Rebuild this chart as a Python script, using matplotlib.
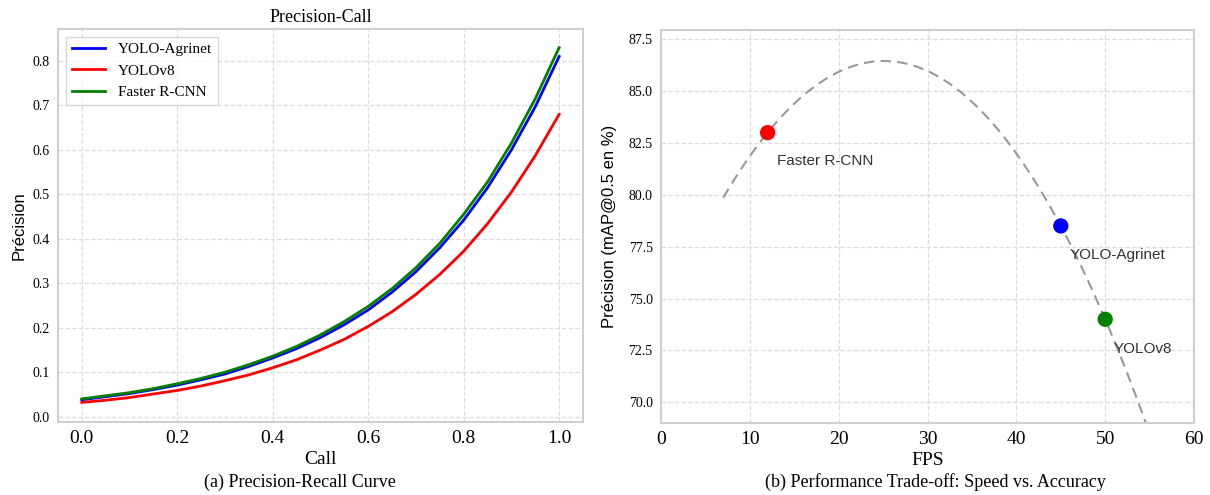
import numpy as np
import matplotlib
matplotlib.use('Agg')
from matplotlib import pyplot as plt

# panel (a): precision-recall curves
recall = [0.0, 0.05, 0.1, 0.15, 0.2, 0.25, 0.3, 0.35, 0.4, 0.45, 0.5,
          0.55, 0.6, 0.65, 0.7, 0.75, 0.8, 0.85, 0.9, 0.95, 1.0]
prec_agrinet = [0.038, 0.045, 0.052, 0.061, 0.071, 0.083, 0.096, 0.113, 0.132, 0.153, 0.178,
                0.207, 0.240, 0.280, 0.326, 0.380, 0.442, 0.515, 0.600, 0.697, 0.810]
prec_yolov8 = [0.032, 0.037, 0.043, 0.051, 0.059, 0.069, 0.081, 0.094, 0.110, 0.128, 0.150,
               0.174, 0.203, 0.236, 0.275, 0.320, 0.372, 0.434, 0.505, 0.587, 0.680]
prec_frcnn = [0.040, 0.047, 0.054, 0.063, 0.074, 0.086, 0.100, 0.117, 0.136, 0.158, 0.184,
              0.214, 0.248, 0.288, 0.335, 0.390, 0.455, 0.528, 0.615, 0.715, 0.830]

# panel (b): speed vs accuracy
models = ['Faster R-CNN', 'YOLO-Agrinet', 'YOLOv8']
fps = [12, 45, 50]
mAP = [83.0, 78.5, 74.0]
point_colors = ['red', 'blue', 'green']
trend_x = [7, 55]

serif = 'Liberation Serif'
sans = 'Liberation Sans'
grid_col = '#dcdcdc'
frame_col = '#cfcfcf'

fig = plt.figure(figsize=(12.1, 4.95), dpi=100)
ax1 = fig.add_axes([0.0479, 0.1475, 0.4339, 0.794])
ax2 = fig.add_axes([0.5463, 0.1455, 0.4405, 0.794])


def style(ax):
    ax.set_facecolor('white')
    ax.grid(True, linestyle='--', color=grid_col, linewidth=0.9)
    ax.set_axisbelow(True)
    for s in ax.spines.values():
        s.set_color(frame_col)
        s.set_linewidth(1.5)
    ax.tick_params(length=0, pad=6)


style(ax1)
ax1.plot(recall, prec_agrinet, color='blue', lw=2, label='YOLO-Agrinet')
ax1.plot(recall, prec_yolov8, color='red', lw=2, label='YOLOv8')
ax1.plot(recall, prec_frcnn, color='green', lw=2, label='Faster R-CNN')
ax1.set_xlim(-0.05, 1.05)
ax1.set_ylim(-0.012, 0.872)
ax1.set_xticks([0.0, 0.2, 0.4, 0.6, 0.8, 1.0])
ax1.set_yticks([0.0, 0.1, 0.2, 0.3, 0.4, 0.5, 0.6, 0.7, 0.8])
for t in ax1.get_xticklabels():
    t.set_fontfamily(serif)
    t.set_fontsize(14)
for t in ax1.get_yticklabels():
    t.set_fontfamily(serif)
    t.set_fontsize(10)
ax1.set_xlabel('Call', fontfamily=serif, fontsize=14, labelpad=3)
ax1.set_ylabel('Précision', fontfamily=sans, fontsize=12, labelpad=4)
ax1.set_title('Precision-Call', fontfamily=serif, fontsize=13, pad=5)
leg = ax1.legend(loc='upper left', prop={'family': serif, 'size': 11},
                 frameon=True, fancybox=False, borderpad=0.4, handlelength=2.2)
leg.get_frame().set_edgecolor(frame_col)

style(ax2)
# quadratic trend through the three models
coef = np.polyfit(fps, mAP, 2)
xs = np.linspace(trend_x[0], trend_x[1], 200)
ax2.plot(xs, np.polyval(coef, xs), linestyle=(0, (5, 3)), color='#999999', lw=1.5)
ax2.scatter(fps, mAP, c=point_colors, s=100, zorder=3)
offsets = [(1, -1.55), (1, -1.6), (1, -1.65)]
for name, x, y, (dx, dy) in zip(models, fps, mAP, offsets):
    ax2.text(x + dx, y + dy, name, fontfamily=sans, fontsize=11, color='#333333')
ax2.set_xlim(0, 60)
ax2.set_ylim(69.0, 87.95)
ax2.set_xticks([0, 10, 20, 30, 40, 50, 60])
ax2.set_yticks([70.0, 72.5, 75.0, 77.5, 80.0, 82.5, 85.0, 87.5])
ax2.set_yticklabels(['70.0', '72.5', '75.0', '77.5', '80.0', '82.5', '85.0', '87.5'])
for t in ax2.get_xticklabels():
    t.set_fontfamily(serif)
    t.set_fontsize(14)
for t in ax2.get_yticklabels():
    t.set_fontfamily(serif)
    t.set_fontsize(10)
ax2.set_xlabel('FPS', fontfamily=serif, fontsize=14, labelpad=3)
ax2.set_ylabel('Précision (mAP@0.5 en %)', fontfamily=sans, fontsize=12, labelpad=8)

fig.text(0.248, 0.026, '(a) Precision-Recall Curve', ha='center', va='center',
         fontfamily=serif, fontsize=13)
fig.text(0.773, 0.026, '(b) Performance Trade-off: Speed vs. Accuracy', ha='center',
         va='center', fontfamily=serif, fontsize=13)

fig.savefig('out.png', dpi=100, facecolor='white')
